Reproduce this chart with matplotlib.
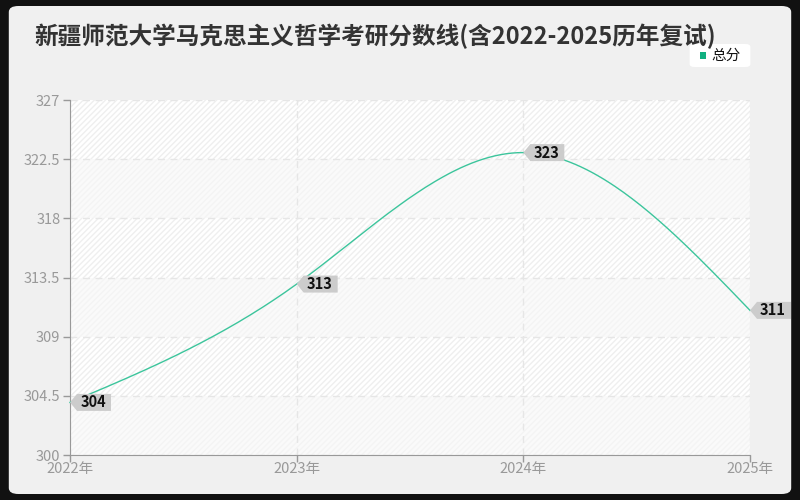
import matplotlib
matplotlib.use("Agg")
import matplotlib.pyplot as plt
import matplotlib.transforms as mtransforms
from matplotlib.patches import FancyBboxPatch, Rectangle, Polygon
import numpy as np

plt.rcParams['font.family'] = ['Noto Sans CJK SC', 'DejaVu Sans']

years = [2022, 2023, 2024, 2025]
year_labels = ['2022年', '2023年', '2024年', '2025年']
scores = [304, 313, 323, 311]
y_ticks = [300, 304.5, 309, 313.5, 318, 322.5, 327]
y_tick_labels = ['300', '304.5', '309', '313.5', '318', '322.5', '327']
title = '新疆师范大学马克思主义哲学考研分数线(含2022-2025历年复试)'
series_name = '总分'
line_color = '#3cc59c'

fig = plt.figure(figsize=(8, 5), dpi=100)
fig.patch.set_facecolor('#111111')
bg = FancyBboxPatch((0.011, 0.012), 0.978, 0.976, boxstyle='round,pad=0,rounding_size=0.012',
                    transform=fig.transFigure, fc='#f0f0f0', ec='none', zorder=-10)
fig.patches.append(bg)

ax = fig.add_axes([0.0875, 0.09, 0.85, 0.71])
ax.set_facecolor('#ffffff')

ax.set_xlim(years[0], years[-1])
ax.set_ylim(y_ticks[0], y_ticks[-1])

# alternating background bands
for i in range(len(y_ticks) - 1):
    dark = (len(y_ticks) - 2 - i) % 2 == 0
    ax.axhspan(y_ticks[i], y_ticks[i + 1], fc='#fafafa' if not dark else '#ffffff',
               ec='#efefef' if dark else '#f4f4f4', hatch='//////', lw=0, zorder=0)

# natural cubic spline through the points
xs = np.array(years, dtype=float)
ys = np.array(scores, dtype=float)
n = len(xs)
h = np.diff(xs)
A = np.zeros((n, n))
r = np.zeros(n)
A[0, 0] = 1
A[-1, -1] = 1
for i in range(1, n - 1):
    A[i, i - 1] = h[i - 1]
    A[i, i] = 2 * (h[i - 1] + h[i])
    A[i, i + 1] = h[i]
    r[i] = 6 * ((ys[i + 1] - ys[i]) / h[i] - (ys[i] - ys[i - 1]) / h[i - 1])
M = np.linalg.solve(A, r)
cx, cy = [], []
for i in range(n - 1):
    t = np.linspace(xs[i], xs[i + 1], 80)
    a = xs[i + 1] - t
    b = t - xs[i]
    yv = (M[i] * a ** 3 + M[i + 1] * b ** 3) / (6 * h[i]) \
        + (ys[i] / h[i] - M[i] * h[i] / 6) * a + (ys[i + 1] / h[i] - M[i + 1] * h[i] / 6) * b
    cx.append(t)
    cy.append(yv)
ax.plot(np.concatenate(cx), np.concatenate(cy), color=line_color, lw=1.0, zorder=3, clip_on=False)

ax.set_xticks(years)
ax.set_xticklabels(year_labels)
ax.set_yticks(y_ticks)
ax.set_yticklabels(y_tick_labels)
ax.tick_params(axis='both', colors='#999999', labelcolor='#999999', labelsize=10.5, length=5, width=1)
ax.tick_params(axis='x', pad=0)
ax.tick_params(axis='y', pad=2)
for sp in ['top', 'right']:
    ax.spines[sp].set_visible(False)
for sp in ['left', 'bottom']:
    ax.spines[sp].set_color('#999999')
ax.grid(True, color='#e6e6e6', linestyle=(0, (5, 4)), lw=1)
ax.set_axisbelow(True)

# value labels: gray tag with left arrow
aw, ah, bw = 0.07, 0.085, 0.34
for x, y in zip(years, scores):
    trans = fig.dpi_scale_trans + mtransforms.ScaledTranslation(x, y, ax.transData)
    tag = Polygon([(0, 0), (aw, ah), (aw + bw, ah), (aw + bw, -ah), (aw, -ah)], closed=True,
                  transform=trans, fc='#cccccc', ec='none', zorder=5, clip_on=False)
    ax.add_patch(tag)
    ax.text(aw + bw / 2 - 0.01, 0.0, str(y), transform=trans, ha='center', va='center',
            fontsize=10.5, fontweight='bold', color='#111111', zorder=6, clip_on=False)

fig.text(0.043, 0.928, title, fontsize=17, fontweight='bold', color='#333333', ha='left', va='center')

leg_box = FancyBboxPatch((0.862, 0.866), 0.076, 0.046, boxstyle='round,pad=0,rounding_size=0.006',
                         transform=fig.transFigure, fc='white', ec='none', zorder=2)
fig.patches.append(leg_box)
fig.patches.append(Rectangle((0.8755, 0.883), 0.0075, 0.012, transform=fig.transFigure,
                             fc='#10b080', ec='none', zorder=3))
fig.text(0.889, 0.889, series_name, fontsize=10.5, color='#111111', ha='left', va='center', zorder=4)

fig.savefig('out.png', dpi=100, facecolor=fig.get_facecolor())
